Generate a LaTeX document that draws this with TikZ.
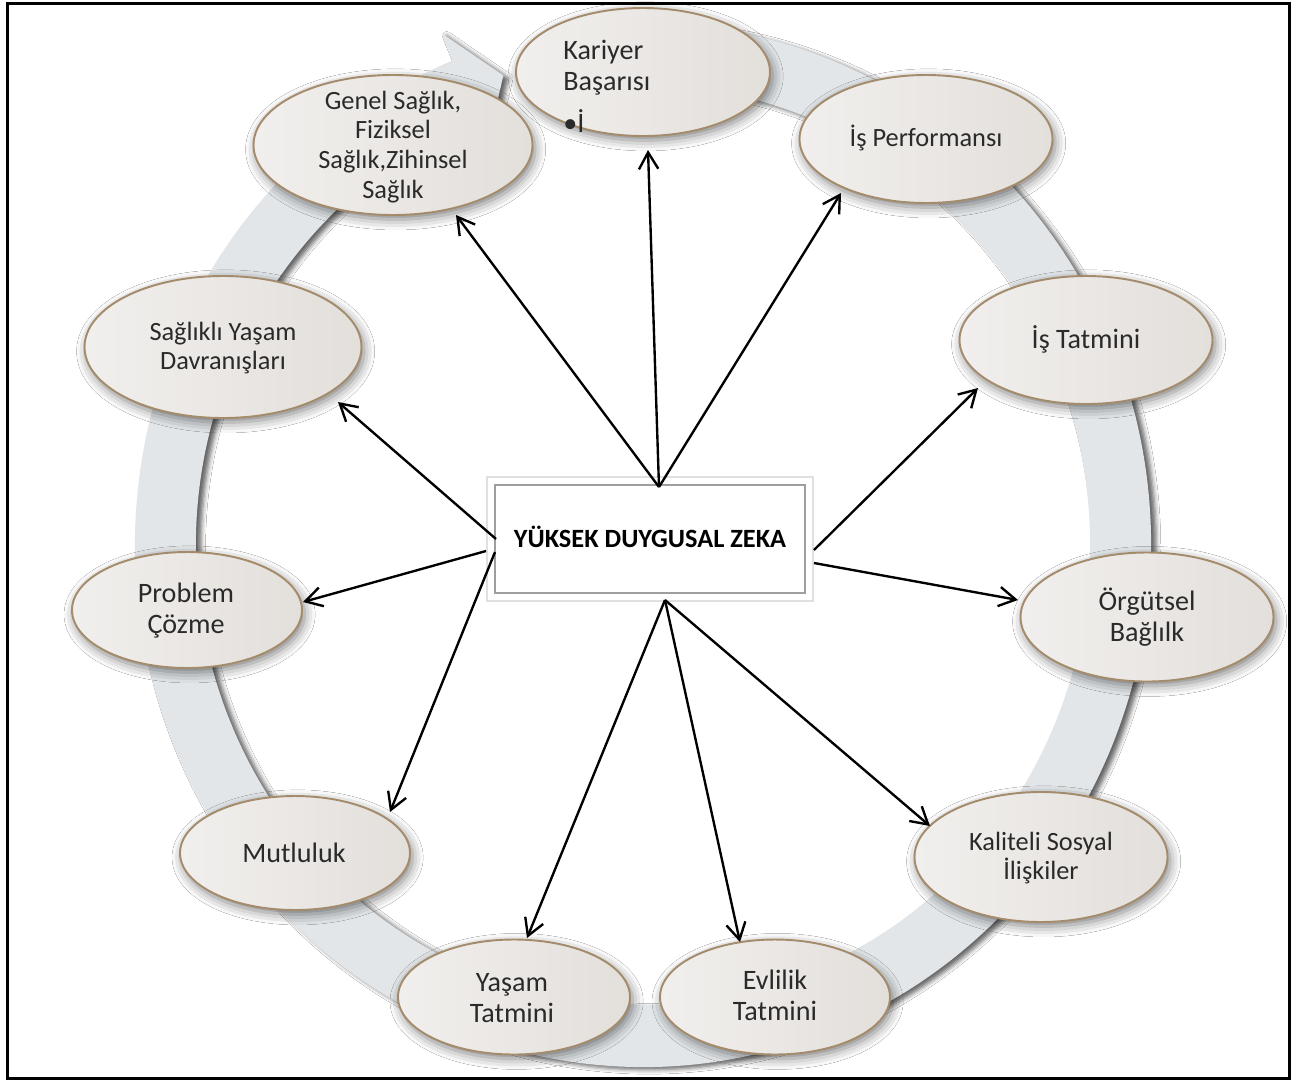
\documentclass[tikz,border=0pt]{standalone}
\usepackage{fontspec}
\setmainfont{Carlito}
\usetikzlibrary{shapes.geometric,arrows.meta,shadows.blur,calc}
\definecolor{ringc}{HTML}{E2E6E9}
\definecolor{elb}{HTML}{A38B6B}
\definecolor{ell}{HTML}{F1EFED}
\definecolor{elr}{HTML}{E3DFDB}
\definecolor{txtc}{HTML}{2A2A2A}
\newcommand\fsA{\fontsize{15}{17}\selectfont}
\newcommand\fsB{\fontsize{16}{17.6}\selectfont}
\begin{document}
\begin{tikzpicture}[x=0.02cm,y=-0.02cm,
  oval/.style={ellipse, draw=elb, line width=1.1pt, left color=ell, right color=elr, inner sep=0pt,
    blur shadow={shadow xshift=1.5pt, shadow yshift=-2.5pt, shadow blur radius=6pt, shadow opacity=50}},
  sz/.style 2 args={minimum width=#1*0.02cm, minimum height=#2*0.02cm},
  lbl/.style={text=txtc, align=center, inner sep=0pt},
  arr/.style={line width=1.35pt, -{Straight Barb[length=9.5pt,width=11pt]}},
]
\useasboundingbox (0,0) rectangle (1296,1080);
\fill[white] (0,0) rectangle (1296,1080);

% ring with arrow head
\fill[ringc, blur shadow={shadow xshift=3pt, shadow yshift=-1.5pt, shadow blur radius=2.5pt, shadow opacity=60}]
  ({643+508*cos(-80)},{545+522*sin(-80)})
  arc[start angle=-80, end angle=248, x radius=508, y radius=522]
  -- ({643+538*cos(248)},{545+552*sin(248)})
  -- ({643+477.5*cos(253)},{545+491*sin(253)})
  -- ({643+417*cos(248)},{545+430*sin(248)})
  -- ({643+447*cos(248)},{545+460*sin(248)})
  arc[start angle=248, end angle=-80, x radius=447, y radius=460]
  -- cycle;

% ellipses
\node[oval, sz={254}{128}] (kar) at (643,72) {};
\node[oval, sz={279}{140}] (gen) at (393,145) {};
\node[oval, sz={253}{128}] (isp) at (926,139) {};
\node[oval, sz={253}{128}] (ist) at (1086,340) {};
\node[oval, sz={253}{129}] (org) at (1147,617) {};
\node[oval, sz={253}{130}] (kal) at (1041,857) {};
\node[oval, sz={230}{115}] (evl) at (775,997) {};
\node[oval, sz={232}{115}] (yas) at (514,997) {};
\node[oval, sz={230}{114}] (mut) at (295,853) {};
\node[oval, sz={230}{116}] (pro) at (187,610) {};
\node[oval, sz={277}{142}] (sag) at (223,347) {};

% texts
\node[lbl, font=\fsB, align=left, anchor=north west] (kart) at (563,40) {Kariyer\\Başarısı\\[6pt]•İ};
\node[lbl, font=\fsA] (gent) at (393,147) {Genel Sağlık,\\Fiziksel\\Sağlık,Zihinsel\\Sağlık};
\node[lbl, font=\fsA] (ispt) at (926,138) {İş Performansı};
\node[lbl, font=\fsB] (istt) at (1086,339) {İş Tatmini};
\node[lbl, font=\fsB] (orgt) at (1147,617) {Örgütsel\\Bağlılk};
\node[lbl, font=\fsA] (kalt) at (1041,858) {Kaliteli Sosyal\\İlişkiler};
\node[lbl, font=\fsB] (evlt) at (775,995) {Evlilik\\Tatmini};
\node[lbl, font=\fsB] (yast) at (512,998) {Yaşam\\Tatmini};
\node[lbl, font=\fsB] (mutt) at (294,853) {Mutluluk};
\node[lbl, font=\fsB] (prot) at (186,611) {Problem\\Çözme};
\node[lbl, font=\fsA] (sagt) at (223,348) {Sağlıklı Yaşam\\Davranışları};

% central box
\node[draw=black!38, line width=1.4pt, fill=white, minimum width=6.2cm, minimum height=2.16cm, inner sep=0pt] (box) at (650,539) {};
\node[inner sep=0pt, font=\fontsize{15}{18}\selectfont\bfseries] (boxt) at (650,537) {YÜKSEK DUYGUSAL ZEKA};
\draw[black!12, line width=1.1pt] ($(box.north west)+(-7,-7)$) rectangle ($(box.south east)+(7,7)$);

% start and end points of connectors
\coordinate (st) at (659,487);
\coordinate (sb) at (665,600);
\coordinate (sr1) at (814,550);
\coordinate (sr2) at (814,563);
\coordinate (sl1) at (496,539);
\coordinate (sl2) at (486,551);
\coordinate (sl3) at (495,552);
\coordinate (eKar) at (648,150);
\coordinate (eGen) at (456,215);
\coordinate (eIsp) at (841,193);
\coordinate (eIst) at (978,388);
\coordinate (eOrg) at (1018,600);
\coordinate (eKal) at (930,826);
\coordinate (eEvl) at (740,942);
\coordinate (eYas) at (527,938);
\coordinate (eMut) at (390,812);
\coordinate (ePro) at (303,602);
\coordinate (eSag) at (338,402);

\draw[arr] (st) -- (eKar);
\draw[arr] (st) -- (eGen);
\draw[arr] (st) -- (eIsp);
\draw[arr] (sr1) -- (eIst);
\draw[arr] (sr2) -- (eOrg);
\draw[arr] (sb) -- (eKal);
\draw[arr] (sb) -- (eEvl);
\draw[arr] (sb) -- (eYas);
\draw[arr] (sl1) -- (eSag);
\draw[arr] (sl2) -- (ePro);
\draw[arr] (sl3) -- (eMut);

% frame
\draw[line width=1.7pt] (7.5,3.3) rectangle (1289.5,1078);
\end{tikzpicture}
\end{document}
